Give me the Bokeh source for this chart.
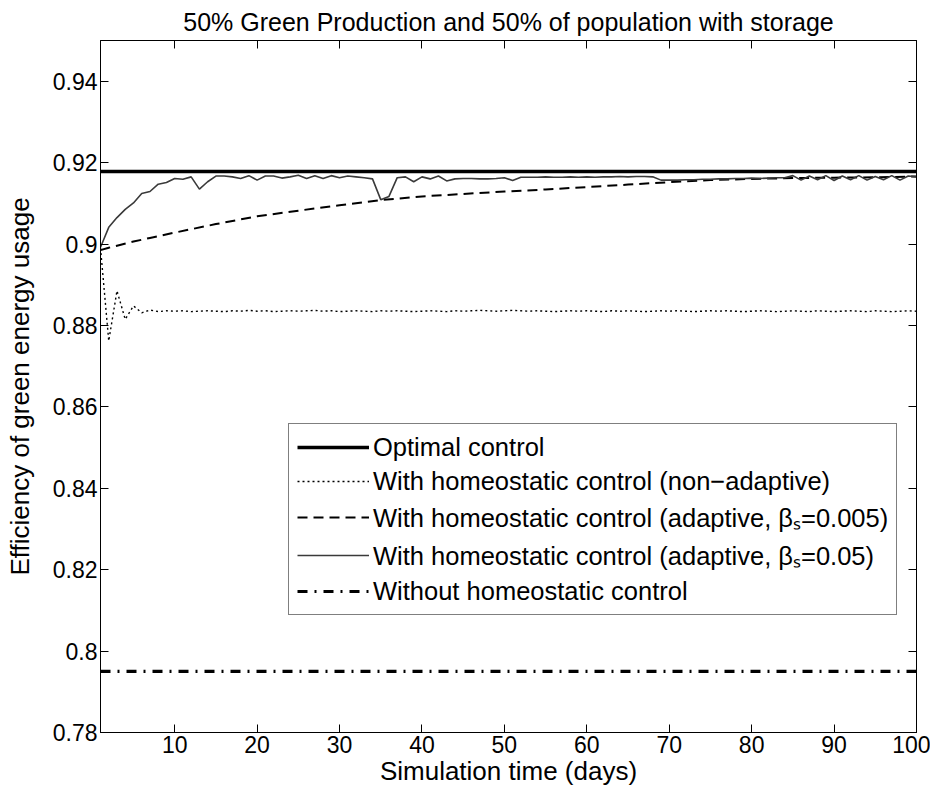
from bokeh.plotting import figure
from bokeh.models import (Range1d, FixedTicker, NumeralTickFormatter, LinearAxis,
                          Legend, LegendItem)
from bokeh.embed import file_html
from bokeh.resources import INLINE

# ---------------- data ----------------
days = list(range(1, 101))

optimal_x = [1, 100]
optimal_y = [0.9178, 0.9178]

without_x = [1, 100]
without_y = [0.795, 0.795]

non_adaptive = [
    0.8990, 0.8762, 0.8885, 0.8815, 0.8848, 0.8831, 0.8838, 0.8834, 0.8836, 0.8835,
    0.8836, 0.8834, 0.8835, 0.8836, 0.8835, 0.8834, 0.8836, 0.8835, 0.8837, 0.8835,
    0.8836, 0.8834, 0.8835, 0.8836, 0.8835, 0.8836, 0.8837, 0.8835, 0.8836, 0.8834,
    0.8835, 0.8836, 0.8835, 0.8834, 0.8836, 0.8835, 0.8836, 0.8835, 0.8834, 0.8835,
    0.8836, 0.8835, 0.8834, 0.8836, 0.8835, 0.8836, 0.8837, 0.8836, 0.8835, 0.8836,
    0.8837, 0.8836, 0.8835, 0.8836, 0.8835, 0.8834, 0.8835, 0.8836, 0.8835, 0.8836,
    0.8835, 0.8834, 0.8836, 0.8835, 0.8836, 0.8835, 0.8834, 0.8835, 0.8836, 0.8835,
    0.8836, 0.8835, 0.8834, 0.8835, 0.8836, 0.8835, 0.8836, 0.8835, 0.8834, 0.8835,
    0.8836, 0.8835, 0.8834, 0.8835, 0.8836, 0.8835, 0.8834, 0.8836, 0.8835, 0.8834,
    0.8835, 0.8836, 0.8835, 0.8834, 0.8836, 0.8835, 0.8834, 0.8835, 0.8836, 0.8835,
]

adaptive_slow_x = [1, 2, 3, 5, 7, 10, 15, 20, 25, 30, 35, 40, 45, 50, 55, 60,
                   65, 70, 75, 80, 85, 90, 95, 100]
adaptive_slow_y = [0.8985, 0.8991, 0.8996, 0.9006, 0.9015, 0.9028, 0.9049, 0.9068,
                   0.9082, 0.9095, 0.9108, 0.9117, 0.9123, 0.9129, 0.9134, 0.9140,
                   0.9146, 0.9152, 0.9157, 0.9160, 0.9162, 0.9163, 0.9164, 0.9166]

adaptive_fast = [
    0.8992, 0.9041, 0.9065, 0.9085, 0.9101, 0.9124, 0.9129, 0.9147, 0.9151, 0.9161,
    0.9159, 0.9165, 0.9135, 0.9153, 0.9167, 0.9167, 0.9165, 0.9161, 0.9168, 0.9157,
    0.9167, 0.9167, 0.9162, 0.9165, 0.9169, 0.9161, 0.9168, 0.9161, 0.9168, 0.9163,
    0.9167, 0.9165, 0.9163, 0.9160, 0.9109, 0.9117, 0.9163, 0.9165, 0.9153, 0.9165,
    0.9160, 0.9167, 0.9155, 0.9160, 0.9161, 0.9161, 0.9160, 0.9160, 0.9161, 0.9163,
    0.9156, 0.9164, 0.9164, 0.9164, 0.9165, 0.9164, 0.9164, 0.9165, 0.9164, 0.9165,
    0.9164, 0.9165, 0.9165, 0.9166, 0.9165, 0.9166, 0.9166, 0.9165, 0.9157, 0.9157,
    0.9157, 0.9158, 0.9158, 0.9159, 0.9159, 0.9160, 0.9160, 0.9161, 0.9161, 0.9162,
    0.9161, 0.9162, 0.9163, 0.9163, 0.9168, 0.9157, 0.9167, 0.9158, 0.9168, 0.9156,
    0.9167, 0.9158, 0.9168, 0.9157, 0.9166, 0.9158, 0.9168, 0.9157, 0.9167, 0.9165,
]

x_ticks = [10, 20, 30, 40, 50, 60, 70, 80, 90, 100]
y_ticks = [0.78, 0.80, 0.82, 0.84, 0.86, 0.88, 0.90, 0.92, 0.94]

labels = [
    "Optimal control",
    "With homeostatic control (non\u2212adaptive)",
    "With homeostatic control (adaptive, \u03b2\u209b=0.005)",
    "With homeostatic control (adaptive, \u03b2\u209b=0.05)",
    "Without homeostatic control",
]

title_text = "50% Green Production and 50% of population with storage"
x_label = "Simulation time (days)"
y_label = "Efficiency of green energy usage"

# ---------------- figure ----------------
FONT = "Liberation Sans"

p = figure(width=930, height=788, x_range=Range1d(1, 100), y_range=Range1d(0.78, 0.95),
           output_backend="svg", toolbar_location=None,
           min_border_left=100, min_border_right=14, min_border_top=40, min_border_bottom=52)

p.title.text = title_text
p.title.align = "center"
p.title.text_font = FONT
p.title.text_font_size = "25px"
p.title.text_font_style = "normal"
p.title.text_color = "black"
p.title.standoff = 10

p.xgrid.visible = False
p.ygrid.visible = False
p.outline_line_color = "black"
p.outline_line_width = 1
p.outline_line_alpha = 1

xb = p.below[0]
yl = p.left[0]
xb.ticker = FixedTicker(ticks=x_ticks)
yl.ticker = FixedTicker(ticks=y_ticks)
yl.formatter = NumeralTickFormatter(format="0.0[0]")
xb.axis_label = x_label
yl.axis_label = y_label

top_axis = LinearAxis(ticker=FixedTicker(ticks=x_ticks),
                      major_label_overrides={t: "" for t in x_ticks})
right_axis = LinearAxis(ticker=FixedTicker(ticks=y_ticks),
                        major_label_overrides={t: "" for t in y_ticks})
p.add_layout(top_axis, "above")
p.add_layout(right_axis, "right")

for ax in [xb, yl, top_axis, right_axis]:
    ax.axis_line_color = "black"
    ax.axis_line_width = 1
    ax.major_tick_in = 8
    ax.major_tick_out = 0
    ax.minor_tick_in = 0
    ax.minor_tick_out = 0
    ax.major_tick_line_color = "black"
    ax.major_label_text_font = FONT
    ax.major_label_text_font_size = "23px"
    ax.major_label_text_color = "black"
    ax.axis_label_text_font = FONT
    ax.axis_label_text_font_size = "26px"
    ax.axis_label_text_font_style = "normal"
    ax.axis_label_text_color = "black"

xb.major_label_standoff = 3
yl.major_label_standoff = 3
xb.axis_label_standoff = 0
yl.axis_label_standoff = 15

for ax in [top_axis, right_axis]:
    ax.major_label_standoff = 0

# ---------------- series ----------------
r_opt = p.line(optimal_x, optimal_y, line_color="black", line_width=3.5)
r_non = p.line(days, non_adaptive, line_color="black", line_width=1.4, line_dash="2 3")
r_slow = p.line(adaptive_slow_x, adaptive_slow_y, line_color="black", line_width=2,
                line_dash="10 6")
r_fast = p.line(days, adaptive_fast, line_color="#3a3a3a", line_width=1.6)
r_wo = p.line(without_x, without_y, line_color="black", line_width=3.2,
              line_dash="10 7 2 7")

legend = Legend(items=[
    LegendItem(label=labels[0], renderers=[r_opt]),
    LegendItem(label=labels[1], renderers=[r_non]),
    LegendItem(label=labels[2], renderers=[r_slow]),
    LegendItem(label=labels[3], renderers=[r_fast]),
    LegendItem(label=labels[4], renderers=[r_wo]),
], location=(188, 117))
legend.border_line_color = "black"
legend.border_line_width = 1
legend.background_fill_color = "white"
legend.background_fill_alpha = 1
legend.label_text_font = FONT
legend.label_text_font_size = "25.5px"
legend.label_text_color = "black"
legend.glyph_width = 72
legend.glyph_height = 20
legend.label_height = 30
legend.spacing = 4
legend.padding = 8
legend.margin = 0
legend.label_standoff = 4
p.add_layout(legend)

open("out.html", "w").write(file_html(p, INLINE))
